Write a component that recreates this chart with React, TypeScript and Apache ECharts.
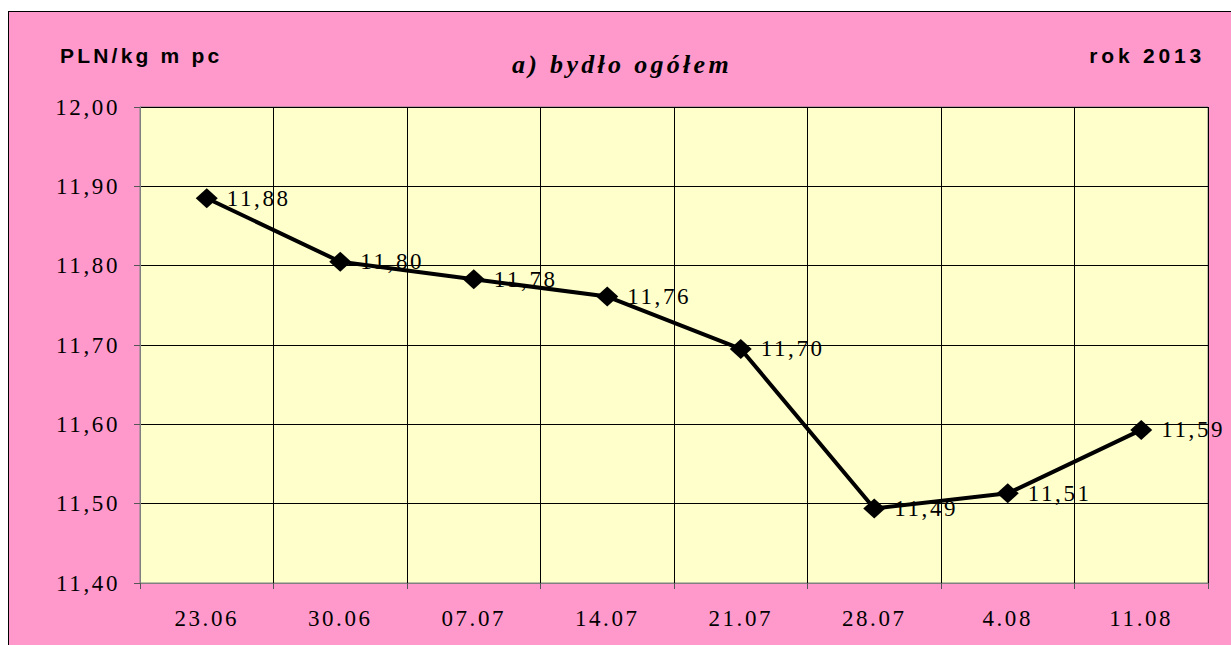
import React, { useEffect, useRef } from "react";
import * as echarts from "echarts";

const categories = ["23.06", "30.06", "07.07", "14.07", "21.07", "28.07", "4.08", "11.08"];
const values = [11.885, 11.805, 11.783, 11.761, 11.695, 11.494, 11.513, 11.593];
const valueLabels = ["11,88", "11,80", "11,78", "11,76", "11,70", "11,49", "11,51", "11,59"];
const yMin = 11.4;
const yMax = 12.0;
const yInterval = 0.1;
const titleText = "a) bydło ogółem";
const unitText = "PLN/kg m pc";
const yearText = "rok 2013";

const SERIF = "Liberation Serif";
const SANS = "Liberation Sans";

function applySpacing(root: HTMLElement | null) {
  if (!root) return;
  root.querySelectorAll("text").forEach((t) => {
    const s = t.textContent || "";
    let ls = "2.6px";
    if (s === titleText) ls = "3.3px";
    else if (s === unitText) ls = "3.2px";
    else if (s === yearText) ls = "3.8px";
    t.setAttribute("letter-spacing", ls);
    (t as any).style.letterSpacing = ls;
  });
}

export default function App() {
  const ref = useRef<HTMLDivElement>(null);
  useEffect(() => {
    const el = ref.current!;
    const chart = echarts.init(el, null, { renderer: "svg" });
    chart.setOption({
      animation: false,
      backgroundColor: "transparent",
      grid: {
        left: 131,
        top: 95,
        width: 1068,
        height: 476,
        show: true,
        backgroundColor: "#FFFFCC",
        borderColor: "#808080",
        borderWidth: 1,
      },
      graphic: [
        {
          type: "text",
          x: 613,
          y: 52,
          style: {
            text: titleText,
            fontFamily: SERIF,
            fontSize: 26,
            fontWeight: "bold",
            fontStyle: "italic",
            fill: "#000",
            textAlign: "center",
            textVerticalAlign: "middle",
          },
        },
        {
          type: "text",
          x: 51,
          y: 43,
          style: {
            text: unitText,
            fontFamily: SANS,
            fontSize: 21,
            fontWeight: "bold",
            fill: "#000",
            textAlign: "left",
            textVerticalAlign: "middle",
          },
        },
        {
          type: "text",
          x: 1196,
          y: 43,
          style: {
            text: yearText,
            fontFamily: SANS,
            fontSize: 21,
            fontWeight: "bold",
            fill: "#000",
            textAlign: "right",
            textVerticalAlign: "middle",
          },
        },
      ],
      xAxis: {
        type: "category",
        data: categories,
        boundaryGap: true,
        axisLine: { show: true, lineStyle: { color: "#808080", width: 1 } },
        axisTick: { show: true, length: 6, inside: false, lineStyle: { color: "#555", width: 1 } },
        axisLabel: {
          show: true,
          margin: 24,
          color: "#000",
          fontFamily: SERIF,
          fontSize: 23,
          interval: 0,
        },
        splitLine: { show: true, interval: 0, lineStyle: { color: "#000", width: 1 } },
      },
      yAxis: {
        type: "value",
        min: yMin,
        max: yMax,
        interval: yInterval,
        axisLine: { show: true, lineStyle: { color: "#808080", width: 1 } },
        axisTick: { show: true, length: 6, lineStyle: { color: "#555", width: 1 } },
        axisLabel: {
          margin: 20,
          color: "#000",
          fontFamily: SERIF,
          fontSize: 23,
          formatter: (v: number) => v.toFixed(2).replace(".", ","),
        },
        splitLine: { show: true, lineStyle: { color: "#000", width: 1 } },
      },
      series: [
        {
          type: "line",
          data: values,
          symbol: "diamond",
          symbolSize: [22, 20],
          itemStyle: { color: "#000" },
          lineStyle: { color: "#000", width: 4 },
          label: {
            show: true,
            position: "right",
            distance: 9,
            color: "#000",
            fontFamily: SERIF,
            fontSize: 23,
            formatter: (p: any) => valueLabels[p.dataIndex],
          },
        },
      ],
    });
    applySpacing(el);
    chart.on("finished", () => applySpacing(el));
    const t = setTimeout(() => applySpacing(el), 50);
    return () => {
      clearTimeout(t);
      chart.dispose();
    };
  }, []);

  return (
    <div
      style={{
        position: "absolute",
        left: 8,
        top: 11,
        width: 1223,
        height: 634,
        boxSizing: "border-box",
        borderTop: "1px solid #000",
        borderLeft: "1px solid #000",
        background: "#FF99CC",
        overflow: "hidden",
      }}
    >
      <div ref={ref} style={{ width: 1222, height: 633 }} />
    </div>
  );
}
